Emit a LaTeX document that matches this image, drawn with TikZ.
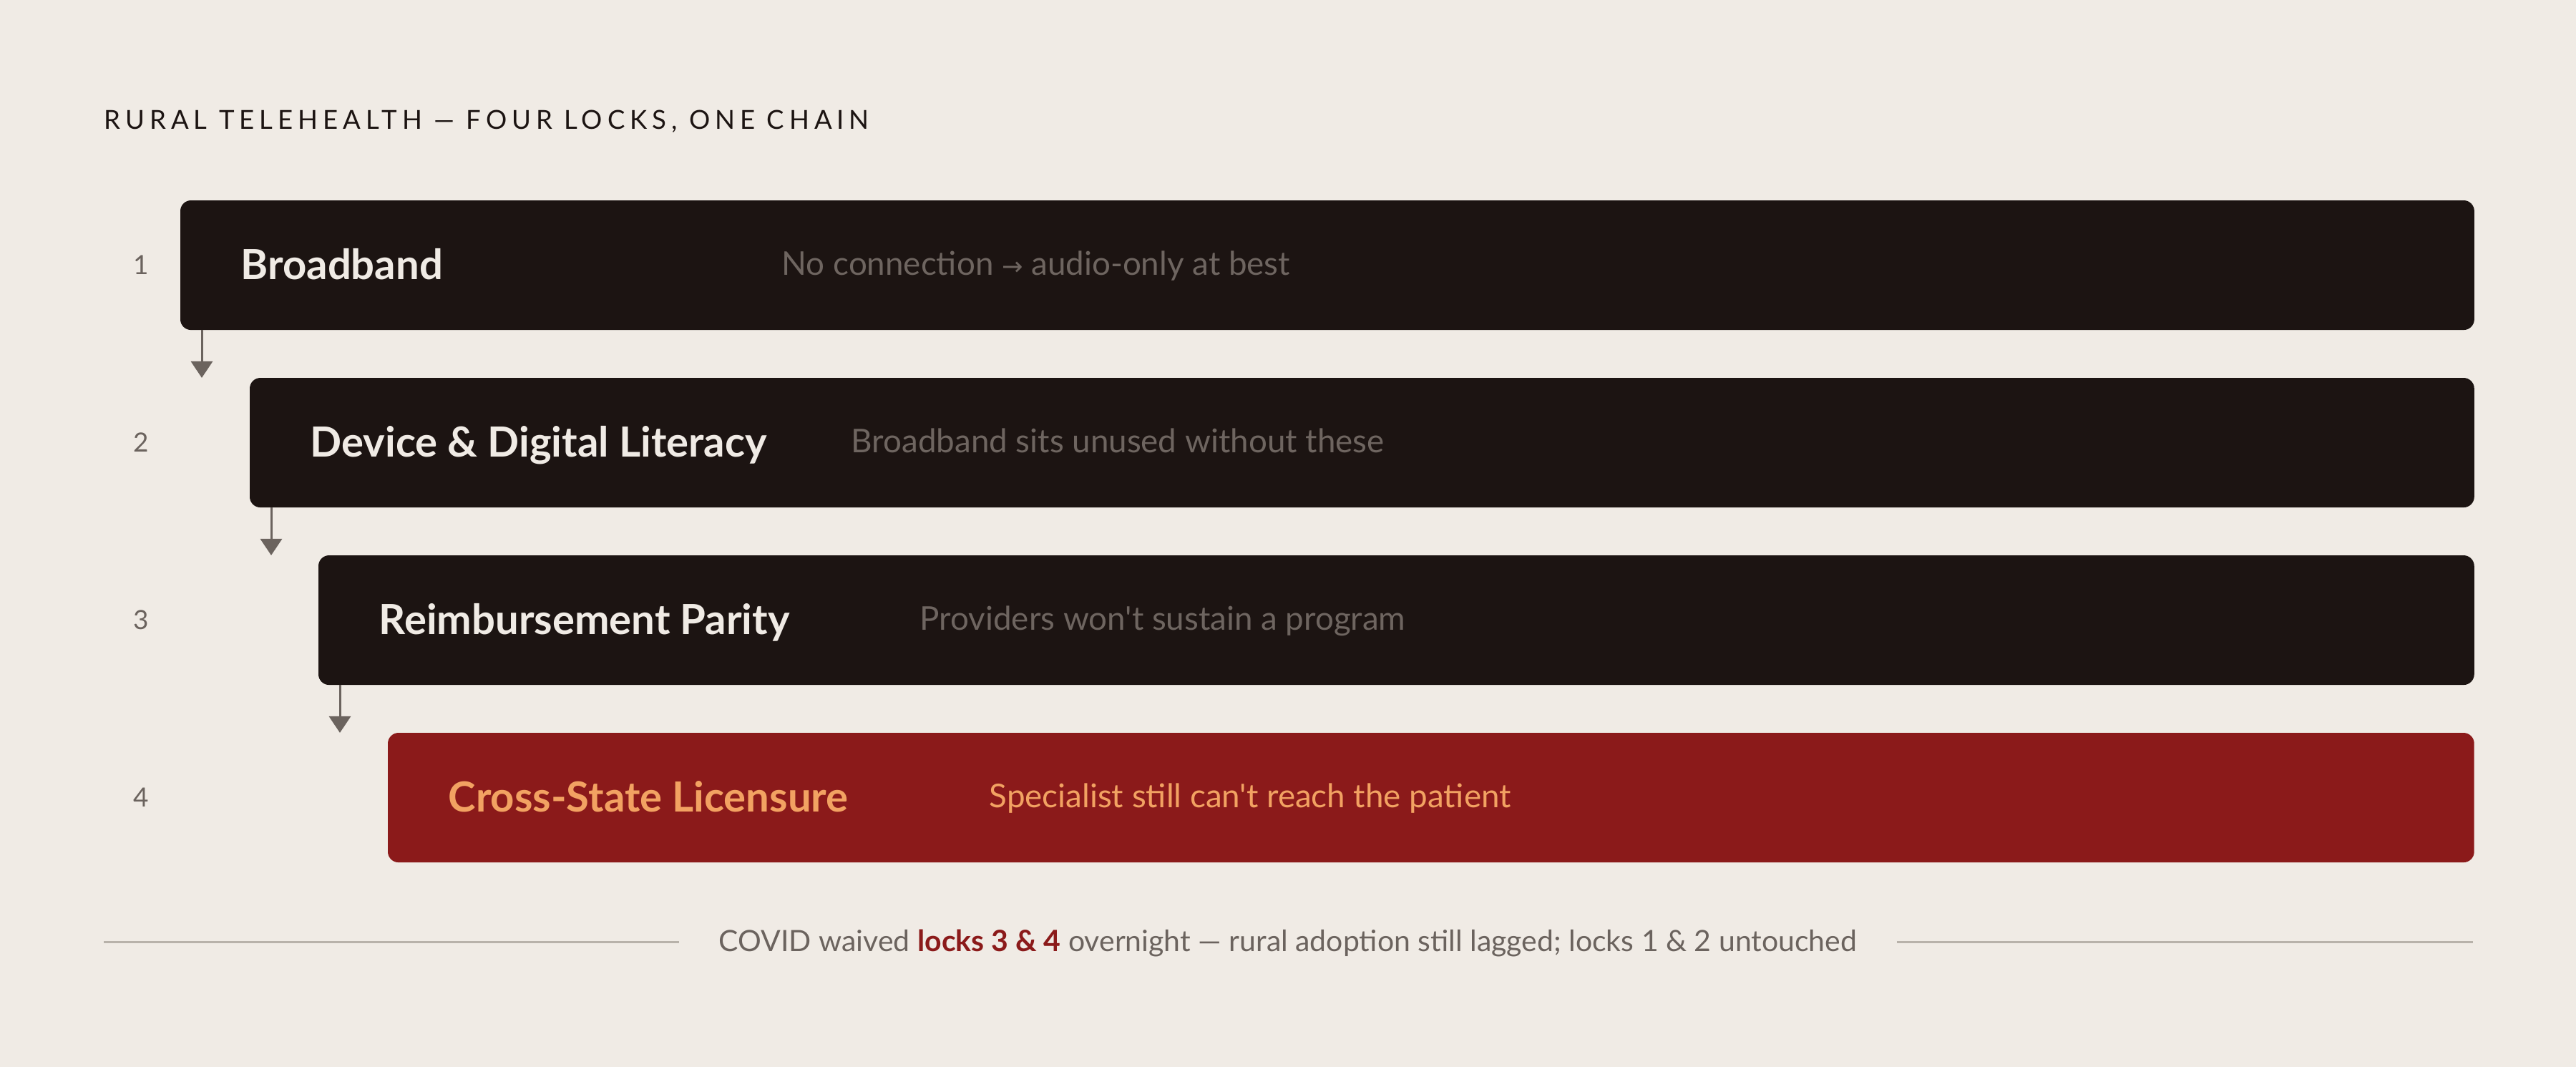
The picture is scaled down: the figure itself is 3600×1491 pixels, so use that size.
\documentclass[tikz,border=0pt]{standalone}
\usepackage{fontspec}
\setmainfont{Lato}[Ligatures=TeXOff]
\newfontfamily\arrowfont{DejaVu Sans}
\usepackage{xcolor}
\usetikzlibrary{positioning,calc,arrows.meta}

\definecolor{paper}{HTML}{F0EBE5}
\definecolor{ink}{HTML}{1C1412}
\definecolor{lockred}{HTML}{8B1A1A}
\definecolor{amber}{HTML}{F2A262}
\definecolor{muted}{HTML}{6B635E}
\definecolor{dimtext}{HTML}{6E6560}
\definecolor{rulegray}{HTML}{B8B2AA}

\begin{document}
\begin{tikzpicture}[x=0.01cm, y=-0.01cm,
    lock/.style={fill=ink, rounded corners=0.15cm, inner sep=0pt, outer sep=0pt,
        minimum height=1.81cm, anchor=north west},
    lockname/.style={anchor=base west, inner sep=0pt, text=paper,
        font=\fontsize{16.5}{19}\selectfont\bfseries},
    lockwhy/.style={anchor=base west, inner sep=0pt, text=dimtext,
        font=\fontsize{13}{15}\selectfont},
    num/.style={inner sep=0pt, text=muted, font=\fontsize{10.5}{12}\selectfont},
    chain/.style={draw=muted, line width=0.03cm, -{Triangle[length=0.23cm,width=0.3cm]}},
    rule/.style={draw=rulegray, line width=0.03cm}]
    % Background and frame
    \fill[paper] (0,0) rectangle (3600,1491);
    \useasboundingbox (0,0) rectangle (3600,1491);
    % Title
    \node[anchor=base west, inner sep=0pt, text=ink,
        font=\fontsize{10.4}{12}\selectfont\addfontfeatures{LetterSpace=19}] (title) at (145,181)
        {RURAL TELEHEALTH — FOUR LOCKS, ONE CHAIN};
    % Locks
    \node[lock, minimum width=32.04cm] (b1) at (252,280) {};
    \node[lock, minimum width=31.07cm] (b2) at (349,528) {};
    \node[lock, minimum width=30.11cm] (b3) at (445,776) {};
    \node[lock, fill=lockred, minimum width=29.14cm] (b4) at (542,1024) {};
    % Lock names
    \node[lockname] (l1) at ($(b1.west)+(84,20)$) {Broadband};
    \node[lockname] (l2) at ($(b2.west)+(84,20)$) {Device \& Digital Literacy};
    \node[lockname] (l3) at ($(b3.west)+(84,20)$) {Reimbursement Parity};
    \node[lockname, text=amber] (l4) at ($(b4.west)+(84,20)$) {Cross-State Licensure};
    % Consequences
    \node[lockwhy] (d1) at ($(b1.west)+(840,14)$) {No connection {\arrowfont\fontsize{10}{12}\selectfont→} audio-only at best};
    \node[lockwhy] (d2) at ($(b2.west)+(840,14)$) {Broadband sits unused without these};
    \node[lockwhy] (d3) at ($(b3.west)+(840,14)$) {Providers won't sustain a program};
    \node[lockwhy, text=amber] (d4) at ($(b4.west)+(840,14)$) {Specialist still can't reach the patient};
    % Numbers
    \node[num] (n1) at (197,370) {1};
    \node[num] (n2) at (197,618) {2};
    \node[num] (n3) at (197,866) {3};
    \node[num] (n4) at (197,1114) {4};
    % Chain arrows
    \coordinate (a1) at ($(b1.south west)+(30,0)$);
    \coordinate (a2) at ($(b2.south west)+(30,0)$);
    \coordinate (a3) at ($(b3.south west)+(30,0)$);
    \draw[chain] (a1) -- (a1 |- b2.north);
    \draw[chain] (a2) -- (a2 |- b3.north);
    \draw[chain] (a3) -- (a3 |- b4.north);
    % Footer note
    \node[anchor=base, inner xsep=0.55cm, inner ysep=0pt, text=muted,
        font=\fontsize{11.65}{14}\selectfont] (note) at (1800,1329)
        {COVID waived \textcolor{lockred}{\bfseries locks 3 \& 4} overnight — rural adoption still lagged; locks 1 \& 2 untouched};
    \coordinate (rl) at (145,1316);
    \coordinate (rr) at (3456,1316);
    \draw[rule] (rl) -- (rl -| note.west);
    \draw[rule] (note.east |- rr) -- (rr);
\end{tikzpicture}
\end{document}
